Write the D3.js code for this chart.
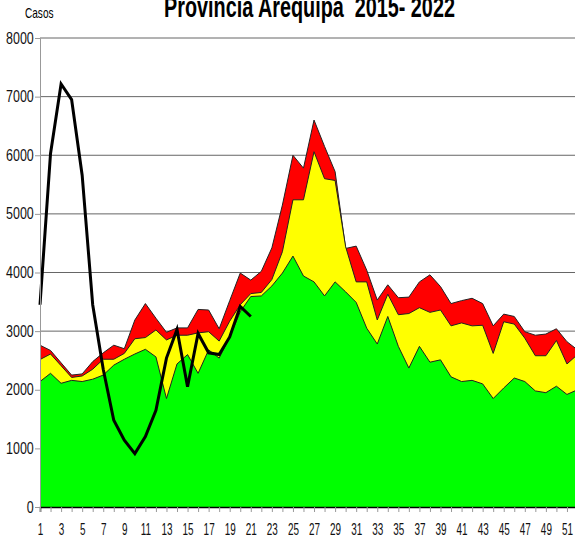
<!DOCTYPE html>
<html>
<head>
<meta charset="utf-8">
<script src="https://cdn.jsdelivr.net/npm/d3@7/dist/d3.min.js"></script>
<style>
body { margin: 0; background: #fff; }
text { font-family: "Liberation Sans", Arial, sans-serif; }
</style>
</head>
<body>
<script>
// semanas epidemiologicas
var weeks = d3.range(1, 53);
var yTicks = [0, 1000, 2000, 3000, 4000, 5000, 6000, 7000, 8000];

// canal endemico 2015-2021 (zona de exito / seguridad / alarma)
var exito = [2140, 2280, 2110, 2160, 2140, 2180, 2250, 2420, 2520, 2610,
             2690, 2560, 1850, 2440, 2600, 2280, 2680, 2540, 2900, 3330,
             3590, 3600, 3770, 3990, 4280, 3940, 3840, 3600, 3840, 3670,
             3490, 3050, 2780, 3250, 2740, 2370, 2740, 2470, 2510, 2220,
             2140, 2160, 2100, 1850, 2030, 2200, 2140, 1980, 1950, 2060,
             1920, 2000];
var seguridad = [2515, 2610, 2410, 2210, 2235, 2350, 2520, 2520, 2620, 2870,
                 2890, 3020, 2850, 2930, 2930, 2970, 2990, 2830, 3170, 3450,
                 3640, 3660, 3880, 4355, 5240, 5240, 6060, 5600, 5570, 4440,
                 3840, 3840, 3190, 3630, 3280, 3300, 3400, 3320, 3360, 3090,
                 3140, 3090, 3100, 2620, 3160, 3120, 2880, 2580, 2580, 2840,
                 2440, 2600];
var alarma = [2760, 2670, 2460, 2250, 2270, 2480, 2630, 2760, 2700, 3190,
              3470, 3220, 2980, 3055, 3055, 3370, 3360, 3040, 3520, 3990,
              3870, 4020, 4420, 5150, 6000, 5780, 6600, 6150, 5720, 4410,
              4450, 4040, 3530, 3790, 3570, 3580, 3840, 3960, 3760, 3470,
              3520, 3560, 3470, 3090, 3290, 3250, 2990, 2930, 2950, 3040,
              2820, 2680];
// casos 2022
var casos2022 = [3450, 6030, 7215, 6950, 5660, 3450, 2350, 1480, 1140, 910,
                 1200, 1650, 2540, 3030, 2050, 2960, 2630, 2600, 2900, 3420,
                 3250];

var w = 575, h = 539;
var svg = d3.select("body").append("svg")
    .attr("width", w)
    .attr("height", h);

var x = d3.scaleLinear().domain([1, 52]).range([40, 577.5]);
var y = d3.scaleLinear().domain([0, 8000]).range([507, 38]);

// grid
svg.append("g").selectAll("line")
    .data(yTicks.slice(1))
    .enter().append("line")
    .attr("x1", 40).attr("x2", w)
    .attr("y1", function(d){ return y(d); })
    .attr("y2", function(d){ return y(d); })
    .attr("stroke", "#666")
    .attr("stroke-width", 1);

function areaOf(vals) {
    return d3.area()
        .x(function(d, i){ return x(weeks[i]); })
        .y0(y(0))
        .y1(function(d){ return y(d); })(vals);
}
function lineOf(vals) {
    return d3.line()
        .x(function(d, i){ return x(weeks[i]); })
        .y(function(d){ return y(d); })(vals);
}

var bands = [
    {vals: alarma, color: "#ff0000"},
    {vals: seguridad, color: "#ffff00"},
    {vals: exito, color: "#00ff00"}
];
bands.forEach(function(b){
    svg.append("path").attr("d", areaOf(b.vals)).attr("fill", b.color);
    svg.append("path").attr("d", lineOf(b.vals))
        .attr("fill", "none").attr("stroke", "#222").attr("stroke-width", 1);
});

// linea 2022
svg.append("path")
    .attr("d", lineOf(casos2022))
    .attr("fill", "none")
    .attr("stroke", "#000")
    .attr("stroke-width", 3)
    .attr("stroke-linejoin", "miter");

// ejes
var xAxis = d3.axisBottom(x)
    .tickValues(weeks)
    .tickSize(5)
    .tickPadding(12)
    .tickFormat(function(d){ return d % 2 ? d : ""; });
var gx = svg.append("g").attr("transform", "translate(0," + y(0) + ")").call(xAxis);
gx.select(".domain").attr("stroke", "#000").attr("stroke-width", 1.5);
gx.selectAll(".tick line").attr("stroke", "#999");
gx.selectAll(".tick text")
    .attr("font-size", 16)
    .attr("font-family", "Liberation Sans, Arial, sans-serif")
    .attr("fill", "#111")
    .attr("transform", "scale(0.62,1)");

var yAxis = d3.axisLeft(y)
    .tickValues(yTicks)
    .tickSize(5)
    .tickPadding(3)
    .tickFormat(d3.format("d"));
var gy = svg.append("g").attr("transform", "translate(40,0)").call(yAxis);
gy.select(".domain").attr("stroke", "#999");
gy.selectAll(".tick line").attr("stroke", "#999");
gy.selectAll(".tick text")
    .attr("font-size", 16)
    .attr("font-family", "Liberation Sans, Arial, sans-serif")
    .attr("fill", "#111")
    .attr("transform", "scale(0.78,1)");

// textos
svg.append("text")
    .attr("transform", "translate(309.5,16.5) scale(0.66,1)")
    .attr("text-anchor", "middle")
    .attr("font-size", 30)
    .attr("font-weight", "bold")
    .style("white-space", "pre")
    .text("Provincia Arequipa  2015- 2022");

svg.append("text")
    .attr("transform", "translate(25,18) scale(0.72,1)")
    .attr("font-size", 14)
    .text("Casos");
</script>
</body>
</html>
